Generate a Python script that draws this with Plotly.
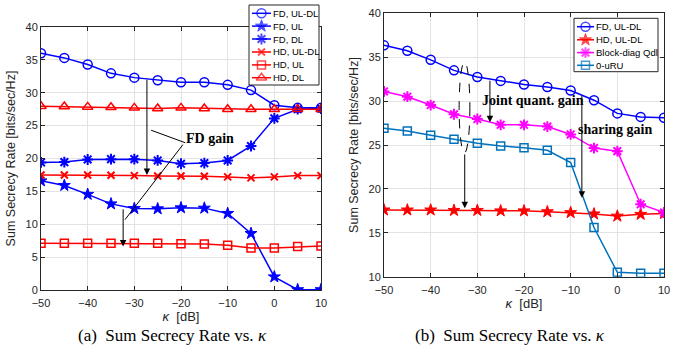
import plotly.graph_objects as go

kappa = [-50, -45, -40, -35, -30, -25, -20, -15, -10, -5, 0, 5, 10]

# (a)
a_fd_uldl = [36.0, 35.3, 34.3, 32.95, 32.3, 31.9, 31.6, 31.6, 31.2, 30.4, 28.1, 27.7, 27.7]
a_fd_ul = [16.6, 15.9, 14.55, 13.1, 12.4, 12.35, 12.5, 12.45, 11.65, 8.6, 2.0, 0.05, 0.05]
a_fd_dl = [19.4, 19.45, 19.85, 19.9, 19.9, 19.7, 19.2, 19.3, 19.7, 21.9, 26.1, 27.5, 27.6]
a_hd_uldl = [17.5, 17.5, 17.5, 17.45, 17.4, 17.35, 17.35, 17.3, 17.2, 17.05, 17.2, 17.4, 17.4]
a_hd_ul = [7.1, 7.1, 7.1, 7.1, 7.1, 7.1, 7.05, 7.0, 6.8, 6.4, 6.4, 6.6, 6.7]
a_hd_dl = [27.95, 27.9, 27.85, 27.8, 27.7, 27.6, 27.7, 27.6, 27.5, 27.5, 27.5, 27.5, 27.5]

# (b)
b_fd_uldl = [36.35, 35.74, 34.7, 33.5, 32.75, 32.3, 31.9, 31.6, 31.2, 30.1, 28.6, 28.2, 28.1]
b_hd_uldl = [17.6, 17.6, 17.6, 17.55, 17.55, 17.5, 17.5, 17.4, 17.3, 17.15, 16.9, 17.1, 17.2]
b_blockdiag = [31.1, 30.5, 29.55, 28.5, 27.96, 27.3, 27.3, 27.1, 26.2, 24.65, 24.3, 18.25, 17.3]
b_0uru = [26.9, 26.6, 26.1, 25.65, 25.2, 24.9, 24.7, 24.4, 23.0, 15.6, 10.5, 10.4, 10.4]

a_names = ["FD, UL-DL", "FD, UL", "FD, DL", "HD, UL-DL", "HD, UL", "HD, DL"]
b_names = ["FD, UL-DL", "HD, UL-DL", "Block-diag Qdl", "0-uRU"]

BLUE = "#0000FF"
RED = "#FF0000"
MAG = "#FF00FF"
MBLUE = "#0072BD"

a_styles = [(BLUE, "circle-open", 9, 1.5), (BLUE, "star", 9, 1), (BLUE, "asterisk-open", 9, 2),
            (RED, "x-thin-open", 7, 2), (RED, "square-open", 8, 1.5), (RED, "triangle-up-open", 9, 1.5)]
b_styles = [(BLUE, "circle-open", 9, 1.5), (RED, "star", 9, 1), (MAG, "asterisk-open", 9, 2),
            (MBLUE, "square-open", 8, 1.5)]

W, H = 686, 362
fig = go.Figure()

def tr(y, name, style, xa, ya):
    color, symbol, size, mlw = style
    fig.add_trace(go.Scatter(
        x=kappa, y=y, name=name, mode="lines+markers", showlegend=False,
        line=dict(color=color, width=1.5),
        marker=dict(symbol=symbol, size=size, color=color,
                    line=dict(color=color, width=mlw)),
        xaxis=xa, yaxis=ya))

for ys, nm, st in zip([a_fd_uldl, a_fd_ul, a_fd_dl, a_hd_uldl, a_hd_ul, a_hd_dl], a_names, a_styles):
    tr(ys, nm, st, "x", "y")
for ys, nm, st in zip([b_fd_uldl, b_hd_uldl, b_blockdiag, b_0uru], b_names, b_styles):
    tr(ys, nm, st, "x2", "y2")

# legend boxes drawn on a transparent pixel-space overlay axis (x3/y3)
def legend_box(x0, y0, x1, y1, names, styles, ys, lx0, lx1, tx):
    fig.add_trace(go.Scatter(x=[x0, x1, x1, x0, x0], y=[y0, y0, y1, y1, y0], mode="lines",
                             fill="toself", fillcolor="white", line=dict(color="#262626", width=1),
                             showlegend=False, hoverinfo="skip", xaxis="x3", yaxis="y3"))
    for nm, st, yy in zip(names, styles, ys):
        color, symbol, size, mlw = st
        fig.add_trace(go.Scatter(x=[lx0, (lx0 + lx1) / 2, lx1], y=[yy, yy, yy], mode="lines+markers",
                                 line=dict(color=color, width=1.5),
                                 marker=dict(symbol=symbol, size=[0, size, 0], color=color,
                                             line=dict(color=color, width=mlw)),
                                 showlegend=False, hoverinfo="skip", xaxis="x3", yaxis="y3"))
        fig.add_annotation(x=tx / W, y=1 - yy / H, xref="paper", yref="paper", text=nm,
                           xanchor="left", yanchor="middle", showarrow=False,
                           font=dict(family="Liberation Sans, Arial", size=9.5, color="#000"))

legend_box(249, 5, 319, 85, a_names, a_styles, [13.3, 26.1, 39.0, 52.0, 64.9, 77.7], 252, 271, 271)
legend_box(574, 18.3, 658, 71.7, b_names, b_styles, [26.7, 39.8, 52.6, 65.3], 577, 594, 594)

axfont = dict(family="Liberation Sans, Arial", size=11, color="#262626")
common = dict(showline=True, linecolor="#262626", linewidth=1, mirror="ticks",
              ticks="inside", ticklen=4, tickcolor="#262626",
              showgrid=True, gridcolor="#e3e3e3", gridwidth=1,
              zeroline=False, tickfont=axfont, automargin=False)

title_font = dict(family="Liberation Sans, Arial", size=12.5, color="#262626")
xtitle = dict(text="<i>κ</i>  [dB]", font=dict(family="Liberation Sans, Arial", size=13, color="#262626"), standoff=2)
ytitle = dict(text="Sum Secrecy Rate [bits/sec/Hz]", font=title_font, standoff=7)

fig.update_layout(
    width=W, height=H, margin=dict(l=0, r=0, t=0, b=0, autoexpand=False),
    paper_bgcolor="white", plot_bgcolor="rgba(0,0,0,0)", showlegend=False,
    xaxis=dict(domain=[41 / W, 321 / W], range=[-50, 10], dtick=10, anchor="y", title=xtitle,
               ticklabelstandoff=3, **common),
    yaxis=dict(domain=[(H - 290) / H, (H - 27) / H], range=[0, 40], dtick=5, anchor="x", title=ytitle, **common),
    xaxis2=dict(domain=[384 / W, 664 / W], range=[-50, 10], dtick=10, anchor="y2", title=xtitle,
                ticklabelstandoff=3, **common),
    yaxis2=dict(domain=[(H - 276.7) / H, (H - 13.3) / H], range=[10, 40], dtick=5, anchor="x2", title=ytitle, **common),
    xaxis3=dict(domain=[0, 1], range=[0, W], visible=False, anchor="y3", automargin=False, fixedrange=True),
    yaxis3=dict(domain=[0, 1], range=[H, 0], visible=False, anchor="x3", automargin=False, fixedrange=True),
)

serif_bold = dict(family="Liberation Serif, Times New Roman", size=14, color="#000")

def arrow(xa, ya, x0, y0, x1, y1):
    fig.add_annotation(x=x1, y=y1, ax=x0, ay=y0, xref=xa, yref=ya, axref=xa, ayref=ya,
                       showarrow=True, arrowhead=2, arrowsize=1.3, arrowwidth=1,
                       arrowcolor="#000", text="")

# (a) annotations
arrow("x", "y", -27.3, 32.2, -27.3, 17.5)
arrow("x", "y", -32.4, 12.5, -32.4, 6.6)
fig.add_annotation(x=-13.8, y=23.1, xref="x", yref="y", text="<b>FD gain</b>",
                   showarrow=False, font=serif_bold)
fig.add_shape(type="line", xref="x", yref="y", x0=-26.4, y0=24.3, x1=-19.1, y1=22.4,
              line=dict(color="#000", width=1))
fig.add_shape(type="line", xref="x", yref="y", x0=-19.6, y0=22.1, x1=-32.0, y1=10.7,
              line=dict(color="#000", width=1))

# (b) annotations
fig.add_shape(type="circle", xref="x2", yref="y2", x0=-33.9, y0=24.1, x1=-31.6, y1=34.45,
              line=dict(color="#000", width=1, dash="dash"))
arrow("x2", "y2", -32.7, 24.1, -32.7, 17.8)
arrow("x2", "y2", -27.3, 32.5, -27.3, 27.6)
arrow("x2", "y2", -7.6, 30.8, -7.6, 19.0)
fig.add_annotation(x=-18.1, y=30.1, xref="x2", yref="y2", text="<b>Joint quant. gain</b>",
                   showarrow=False, font=serif_bold)
fig.add_annotation(x=-0.3, y=26.8, xref="x2", yref="y2", text="<b>sharing gain</b>",
                   showarrow=False, font=serif_bold)

cap_font = dict(family="Liberation Serif, Times New Roman", size=17, color="#000")
fig.add_annotation(x=172 / W, y=1 - 347 / H, xref="paper", yref="paper", xanchor="center",
                   text="(a)  Sum Secrecy Rate vs. <i>κ</i>", showarrow=False, font=cap_font)
fig.add_annotation(x=510 / W, y=1 - 347 / H, xref="paper", yref="paper", xanchor="center",
                   text="(b)  Sum Secrecy Rate vs. <i>κ</i>", showarrow=False, font=cap_font)

fig.write_html("out.html", config={"displayModeBar": False},
               post_script="document.body.style.margin='0px';document.body.style.padding='0px';")
